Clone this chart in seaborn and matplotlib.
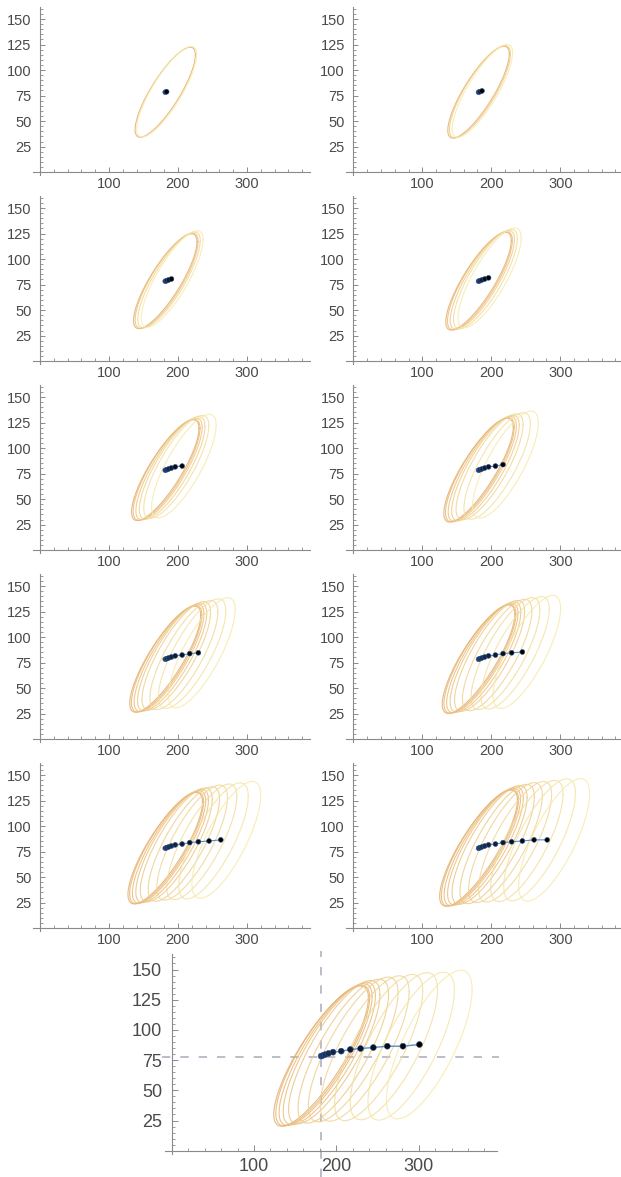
import numpy as np
import pandas as pd
import matplotlib
matplotlib.use("Agg")
import matplotlib.pyplot as plt
from matplotlib.ticker import FixedLocator
from matplotlib.colors import to_rgb
import seaborn as sns

# Sequential estimates
point_x = [181.5, 183.5, 186.5, 190.5, 196.0, 206.0, 217.0, 229.5, 245.0, 262.0, 281.0, 301.0]
point_y = [78.3, 78.8, 79.6, 80.5, 81.6, 82.4, 83.8, 84.6, 85.4, 86.5, 86.5, 87.9]

# Confidence ellipse for each estimate: horizontal offset of its centre,
# semi-extents along x / y (at full scale) and correlation
ellipse_dx = [0.0, 0.0, 0.5, 1.0, 1.5, 2.5, 3.5, 5.0, 6.5, 8.0, 10.0, 12.0]
ellipse_bx = [57.5, 57.0, 56.5, 56.0, 55.5, 55.0, 54.5, 54.0, 53.5, 53.0, 52.5, 52.0]
ellipse_by = [58.0, 58.3, 58.6, 59.0, 59.3, 59.6, 59.9, 60.2, 60.5, 60.9, 61.2, 61.5]
ellipse_r = [0.83, 0.82, 0.82, 0.81, 0.80, 0.79, 0.78, 0.78, 0.77, 0.76, 0.75, 0.74]

# Number of estimates shown in each panel (panels 1..10, then the large one)
panel_counts = [2, 3, 4, 5, 6, 7, 8, 9, 10, 11, 12]
# Ellipse size factor in each panel
panel_scale = [0.76, 0.775, 0.80, 0.825, 0.85, 0.875, 0.895, 0.915, 0.94, 0.98, 1.0]

x_major = [100, 200, 300]
y_major = [25, 50, 75, 100, 125, 150]
x_minor = [v for v in range(20, 400, 20) if v not in x_major]
y_minor = [v for v in range(5, 165, 5) if v not in y_major]

sns.set_theme(style="white")
plt.rcParams["font.family"] = ["Liberation Sans", "DejaVu Sans"]

W, H = 621, 1177
fig = plt.figure(figsize=(W / 100, H / 100), dpi=100)

ELL_START = np.array(to_rgb("#e6ae6c"))
ELL_END = np.array(to_rgb("#f7eaaa"))
PT_START = np.array(to_rgb("#1f3d70"))
PT_END = np.array(to_rgb("#000000"))
AXIS_COL = "#8a8a8a"
LABEL_COL = "#4a4a4a"


def make_axes(x0_px, y0_px, sx, sy, xlim, ylim):
    """Axes whose data origin sits at pixel (x0_px, y0_px), sx/sy px per unit."""
    left = x0_px + xlim[0] * sx
    right = x0_px + xlim[1] * sx
    top = y0_px - ylim[1] * sy
    bottom = y0_px - ylim[0] * sy
    ax = fig.add_axes([left / W, 1 - bottom / H, (right - left) / W, (bottom - top) / H])
    ax.set_xlim(*xlim)
    ax.set_ylim(*ylim)
    ax.patch.set_alpha(0)
    return ax


def style_axes(ax, xb, yb, fs, ypad, xpad, big=False):
    for s in ("top", "right"):
        ax.spines[s].set_visible(False)
    ax.spines["left"].set_position(("data", 0))
    ax.spines["bottom"].set_position(("data", 0))
    ax.spines["left"].set_bounds(*yb)
    ax.spines["bottom"].set_bounds(*xb)
    for s in ("left", "bottom"):
        ax.spines[s].set_color(AXIS_COL)
        ax.spines[s].set_linewidth(0.8)
    ax.xaxis.set_major_locator(FixedLocator(x_major))
    ax.yaxis.set_major_locator(FixedLocator(y_major))
    ax.xaxis.set_minor_locator(FixedLocator(x_minor))
    ax.yaxis.set_minor_locator(FixedLocator(y_minor))
    ax.set_xticklabels([str(v) for v in x_major])
    ax.set_yticklabels([str(v) for v in y_major])
    ml = 4.5 if big else 3.5
    ax.tick_params(axis="both", which="both", bottom=True, left=True,
                   top=False, right=False)
    ax.tick_params(axis="both", which="major", direction="in", length=ml, width=0.7,
                   color=AXIS_COL, labelsize=fs, labelcolor=LABEL_COL)
    ax.tick_params(axis="both", which="minor", direction="in", length=ml * 0.55,
                   width=0.6, color=AXIS_COL)
    ax.tick_params(axis="y", which="major", pad=ypad)
    ax.tick_params(axis="x", which="major", pad=xpad)
    ax.set_xlabel("")
    ax.set_ylabel("")
    ax.grid(False)


def draw_panel(ax, k, big=False):
    n = panel_counts[k]
    g = panel_scale[k]
    t = np.linspace(0, 2 * np.pi, 240)
    for j in range(n):
        f = j / (n - 1) if n > 1 else 0.0
        col = ELL_START + (ELL_END - ELL_START) * f
        r = ellipse_r[j]
        s = np.sqrt(1 - r ** 2)
        a, b = g * ellipse_bx[j], g * ellipse_by[j]
        ex = point_x[j] + ellipse_dx[j] + a * np.cos(t)
        ey = point_y[j] + b * (r * np.cos(t) + s * np.sin(t))
        sns.lineplot(x=ex, y=ey, sort=False, estimator=None, color=col,
                     lw=0.8, alpha=0.85, ax=ax)
    px = point_x[:n]
    py = point_y[:n]
    sns.lineplot(x=px, y=py, sort=False, estimator=None, color="#5a8ccc",
                 lw=1.0 if big else 0.8, ax=ax)
    cols = [tuple(PT_START + (PT_END - PT_START) * (j / (n - 1))) for j in range(n)]
    df = pd.DataFrame({"x": px, "y": py, "idx": np.arange(n)})
    sns.scatterplot(data=df, x="x", y="y", hue="idx", palette=cols, legend=False,
                    s=18 if big else 12, edgecolor="#2b4f86", linewidth=0.4,
                    ax=ax, zorder=5)


# Ten small panels in five rows of two
col_x0 = [40.0, 353.3]
row_y0 = [172.2 + 189.0 * r for r in range(5)]
SX, SY = 0.69, 1.0213
for k in range(10):
    r, c = divmod(k, 2)
    ax = make_axes(col_x0[c], row_y0[r], SX, SY, (-12, 392), (-5, 164))
    draw_panel(ax, k)
    style_axes(ax, (-10, 392), (-3, 162), 10.5, 6.0, 3.4)

# Large final panel with reference cross-hairs at the first estimate
BX, BY = 0.823, 1.208
ax = make_axes(171.7, 1150.7, BX, BY, (-12, 398), (-22, 165))
ax.axvline(point_x[0], ymin=0, ymax=1, color="#b0b0c2", lw=1.2, ls=(0, (5, 6)), zorder=0)
ax.axhline(point_y[0] - 0.6, color="#b0b0c2", lw=1.2, ls=(0, (5, 6)), zorder=0)
draw_panel(ax, 10, big=True)
style_axes(ax, (-8, 395), (-3, 163), 13, 7.0, 5.0, big=True)

fig.savefig("out.png", dpi=100)
